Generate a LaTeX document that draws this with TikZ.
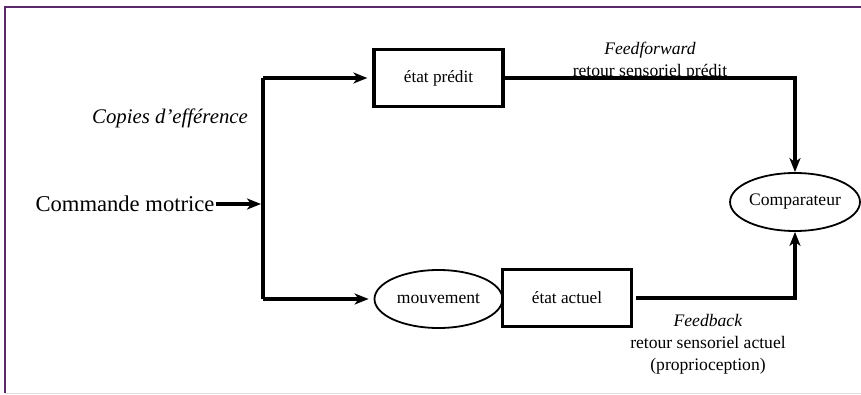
\documentclass[tikz,border=0pt]{standalone}
\usepackage{fontspec}
\setmainfont{Liberation Serif}
\usetikzlibrary{shapes, arrows.meta}

\begin{document}
\begin{tikzpicture}[x=0.5pt, y=-0.5pt,
	flow/.style = {line width = 2pt},
	arr/.style = {-{Stealth[length = 7pt, width = 5.5pt, inset = 2pt]}},
	boite/.style = {draw, line width = 1.6pt, minimum width = 64.5pt, minimum height = 28.5pt, inner sep = 0pt, font = \fontsize{8.6}{10}\selectfont},
	ovale/.style = {draw, shape = ellipse, line width = 0.9pt, minimum width = 64pt, minimum height = 29pt, inner sep = 0pt, font = \fontsize{8.8}{10}\selectfont},
	legende/.style = {align = center, font = \fontsize{8.8}{11}\selectfont}]
	\useasboundingbox (0, 0) rectangle (861, 395);
	\draw[color = {rgb,255:red,90;green,40;blue,105}, line width = 1pt] (5, 393) -- (5, 7.5) -- (861, 7.5);
	\draw[color = black!12, line width = 0.6pt] (5, 393.5) -- (861, 393.5);

	\node[boite] (etat) at (438.5, 78) {état prédit};
	\node[ovale] (comp) at (795, 202) {Comparateur};
	\node[ovale] (mouv) at (438.5, 299) {mouvement};
	\node[boite] (actuel) at (567, 298) {état actuel};

	\node[font = \fontsize{11.3}{13}\selectfont, inner sep = 0.5pt] (cmd) at (125, 204) {Commande motrice};
	\node[font = \fontsize{10.4}{12}\selectfont\itshape] (copies) at (170, 118) {Copies d’efférence};

	\node[legende] (ffwd) at (650, 61) {\textit{Feedforward}\\retour sensoriel prédit};
	\node[legende] (fback) at (708, 344) {\textit{Feedback}\\retour sensoriel actuel\\(proprioception)};

	\coordinate (trA) at (263, 78);
	\coordinate (trB) at (263, 299);
	\coordinate (cmdT) at (261, 204);

	\draw[flow] (trA) -- (trB);
	\draw[flow, arr, shorten > = 2.5pt] (trA) -- (etat);
	\draw[flow, arr, shorten > = 2.5pt] (trB) -- (mouv);
	\draw[flow, arr] (cmd) -- (cmdT);
	\draw[flow, arr] (etat) -| (comp);
	\draw[flow, arr, shorten < = 1.5pt] (actuel.east) -| (comp);

\end{tikzpicture}
\end{document}
